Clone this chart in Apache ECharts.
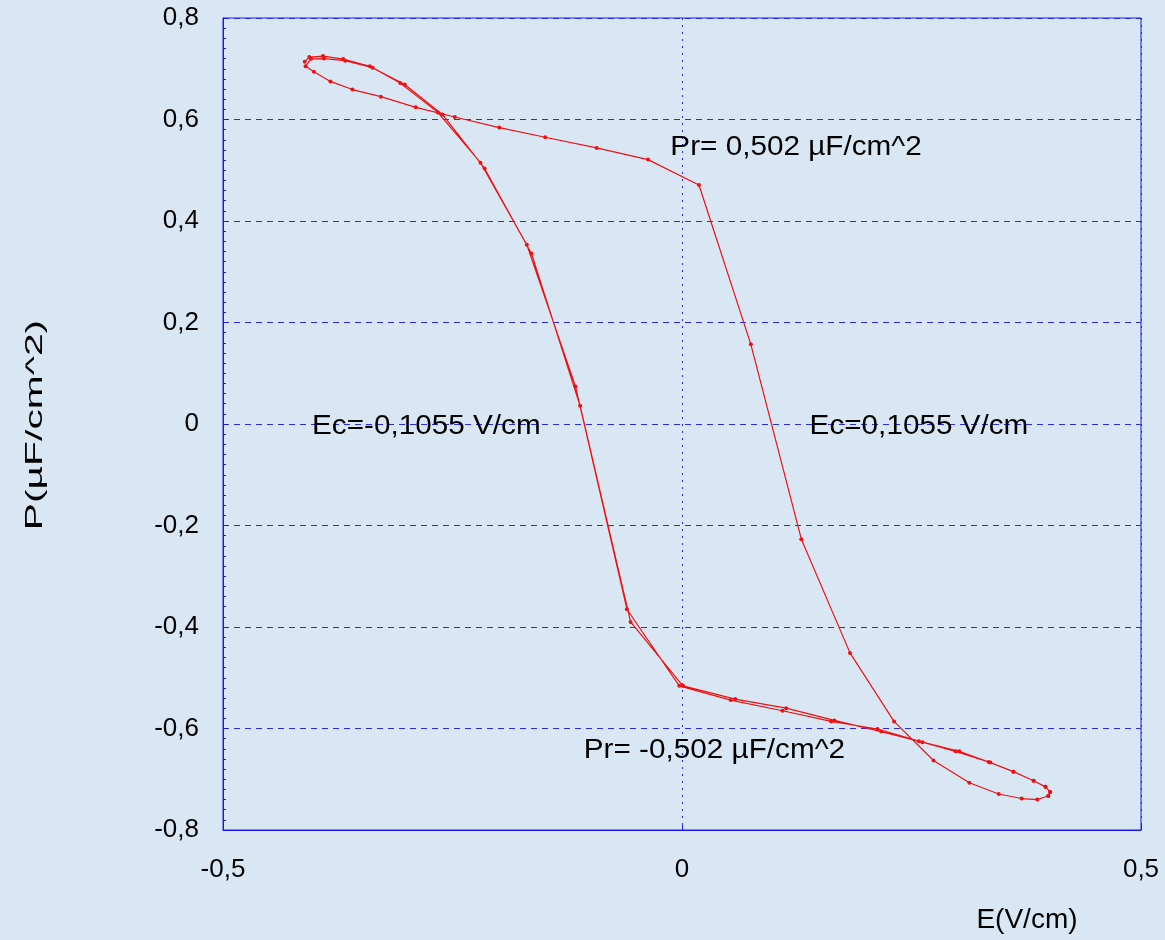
<!DOCTYPE html>
<html>
<head>
<meta charset="utf-8">
<script src="https://cdn.jsdelivr.net/npm/echarts@6/dist/echarts.min.js"></script>
<style>
html,body{margin:0;padding:0;background:#d9e7f5;}
#c{width:1165px;height:940px;}
</style>
</head>
<body>
<div id="c"></div>
<script>
// Field E (V/cm), polarization P (µF/cm^2)
const downBranch1 = [[-0.411,0.714],[-0.406,0.723],[-0.391,0.725],[-0.369,0.719],[-0.340,0.705],[-0.307,0.672],[-0.266,0.614],[-0.2195,0.515],[-0.169,0.353],[-0.116,0.074],[-0.060,-0.365],[-0.003,-0.516],[0.053,-0.544],[0.1095,-0.565],[0.1625,-0.586],[0.213,-0.601],[0.258,-0.625],[0.298,-0.645],[0.334,-0.666]];
const rightTip = [[0.361,-0.685],[0.383,-0.703],[0.396,-0.715],[0.401,-0.725],[0.399,-0.733]];
const upBranch = [[0.387,-0.740],[0.370,-0.738],[0.345,-0.729],[0.313,-0.707],[0.274,-0.663],[0.231,-0.586],[0.183,-0.451],[0.130,-0.227],[0.075,0.157],[0.0185,0.471],[-0.037,0.521],[-0.093,0.544],[-0.149,0.565],[-0.199,0.584],[-0.2475,0.605],[-0.290,0.624],[-0.328,0.645],[-0.359,0.659],[-0.383,0.675],[-0.401,0.694],[-0.410,0.705]];
const downBranch2 = [[-0.404,0.7195],[-0.390,0.720],[-0.367,0.716],[-0.337,0.702],[-0.302,0.669],[-0.261,0.610],[-0.215,0.5035],[-0.164,0.336],[-0.111,0.036],[-0.056,-0.390],[0.001,-0.516],[0.058,-0.542],[0.1135,-0.560],[0.166,-0.584],[0.217,-0.606],[0.262,-0.627],[0.302,-0.645],[0.336,-0.667]];

const annotations = [
  {text:'Pr= 0,502 µF/cm^2', at:[-0.0127, 0.545]},
  {text:'Ec=-0,1055 V/cm', at:[-0.403, -0.006]},
  {text:'Ec=0,1055 V/cm', at:[0.139, -0.006]},
  {text:'Pr= -0,502 µF/cm^2', at:[-0.107, -0.643]}
];
const xName = 'E(V/cm)';
const yName = 'P(µF/cm^2)';

const loop = [].concat(downBranch1, rightTip, upBranch, downBranch2, rightTip);
const FONT = '"Liberation Sans", Arial, sans-serif';
const fmt = v => String(+(+v).toFixed(2)).replace('.', ',');

const chart = echarts.init(document.getElementById('c'), null, {renderer:'canvas'});
chart.setOption({
  backgroundColor: '#d9e7f5',
  animation: false,
  grid: {left:223, right:24, top:18, bottom:110, show:true, borderColor:'#1a1aee', borderWidth:1, backgroundColor:'transparent'},
  xAxis: {
    type:'value', min:-0.5, max:0.5, interval:0.5,
    axisLine:{show:true, onZero:false, lineStyle:{color:'#1a1aee', width:1}},
    axisTick:{show:true, inside:true, length:5, lineStyle:{color:'#1a1aee'}},
    axisLabel:{color:'#000', fontSize:26, fontFamily:FONT, margin:27, formatter:fmt},
    splitLine:{show:true, lineStyle:{color:'#2a2aee', width:1, type:[2,5]}}
  },
  yAxis: {
    type:'value', min:-0.8, max:0.8, interval:0.2,
    axisLine:{show:true, onZero:false, lineStyle:{color:'#1a1aee', width:1}},
    axisTick:{show:true, inside:true, length:5, lineStyle:{color:'#1a1aee'}},
    minorTick:{show:true, splitNumber:10, length:3, lineStyle:{color:'#1a1aee'}},
    axisLabel:{color:'#000', fontSize:26, fontFamily:FONT, margin:24, padding:[6,0,0,0], formatter:fmt},
    splitLine:{show:true, lineStyle:{color:'#2a2aee', width:1, type:[6,5]}}
  },
  series: [{
    type:'line', data: loop, smooth:false,
    symbol:'circle', symbolSize:4, showSymbol:true,
    lineStyle:{color:'#ee1111', width:1.2},
    itemStyle:{color:'#ee1111'}
  }]
});

const g = [];
annotations.forEach(a => {
  const p = chart.convertToPixel({gridIndex:0}, a.at);
  g.push({type:'text', x:p[0], y:p[1], scaleX:1.1, z:100,
    style:{text:a.text, fill:'#000', font:'27px ' + FONT, textAlign:'left', textVerticalAlign:'middle'}});
});
g.push({type:'text', x:1027, y:920, style:{text:xName, fill:'#000', font:'28px ' + FONT, textAlign:'center', textVerticalAlign:'middle'}});
g.push({type:'text', x:35, y:425, rotation:Math.PI/2, scaleX:1.7, style:{text:yName, fill:'#000', font:'24px ' + FONT, textAlign:'center', textVerticalAlign:'middle'}});
chart.setOption({graphic: g});
</script>
</body>
</html>
